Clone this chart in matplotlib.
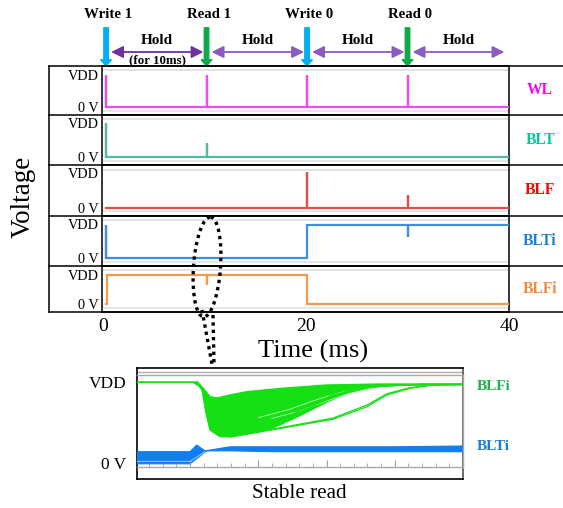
import numpy as np
import matplotlib
matplotlib.use('Agg')
import matplotlib.pyplot as plt
from matplotlib.lines import Line2D
from matplotlib.patches import Ellipse
from matplotlib.transforms import Affine2D, blended_transform_factory
from matplotlib.ticker import MultipleLocator

plt.rcParams['font.family'] = ['Liberation Serif', 'DejaVu Serif']

# ---- data -------------------------------------------------------------
event_t = [0.3, 10.2, 20.1, 30.0]
event_names = ['Write 1', 'Read 1', 'Write 0', 'Read 0']
event_colors = ['#00b0f0', '#10a84a', '#00b0f0', '#10a84a']
t_end = 40.0

signals = ['WL', 'BLT', 'BLF', 'BLTi', 'BLFi']
label_colors = ['#ff00ff', '#00c896', '#ff0000', '#1a7fd4', '#f08a3c']
trace_colors = ['#ee4cee', '#55b8a2', '#dd5050', '#3d8fe0', '#f29a4e']

# step levels (time, level) and short spikes (time, peak), in units of VDD
wl_step_t, wl_step_v = [0.3], [0.0]
wl_spike_t, wl_spike_v = [0.3, 10.2, 20.1, 30.0], [1.0, 1.0, 1.0, 1.0]
blt_step_t, blt_step_v = [0.3], [0.0]
blt_spike_t, blt_spike_v = [0.3, 10.2], [1.0, 0.41]
blf_step_t, blf_step_v = [0.3], [0.0]
blf_spike_t, blf_spike_v = [20.1, 30.0], [1.03, 0.38]
blti_step_t, blti_step_v = [0.3, 20.1], [0.0, 1.0]
blti_spike_t, blti_spike_v = [0.3, 30.0], [1.0, 0.62]
blfi_step_t, blfi_step_v = [0.25, 0.35, 20.1], [0.0, 1.0, 0.0]
blfi_spike_t, blfi_spike_v = [10.2], [0.64]

# zoomed read (arbitrary time units), many Monte Carlo runs
blfi_top_t = [-0.777, 0.044, 0.103, 0.190, 0.293, 0.396, 0.586, 0.835, 1.319, 2.007, 2.784, 4.0]
blfi_top_v = [0.996, 0.996, 1.004, 0.926, 0.818, 0.802, 0.84, 0.88, 0.92, 0.963, 0.975, 0.975]
blfi_low_t = [-0.777, 0.044, 0.132, 0.176, 0.234, 0.293, 0.440, 0.586, 0.835, 1.216, 1.568, 2.007, 2.344, 2.784, 3.370, 4.0]
blfi_low_v = [0.996, 0.996, 0.95, 0.90, 0.617, 0.407, 0.325, 0.325, 0.367, 0.432, 0.568, 0.753, 0.877, 0.95, 0.969, 0.969]
slow_a1_t = [0.835, 1.319, 1.612, 2.095, 2.593, 3.077, 4.0]
slow_a1_v = [0.37, 0.506, 0.654, 0.84, 0.942, 0.963, 0.969]
slow_a2_t = [0.835, 1.319, 1.612, 2.095, 2.593, 3.077, 4.0]
slow_a2_v = [0.36, 0.49, 0.63, 0.82, 0.93, 0.96, 0.969]
slow_b1_t = [0.586, 1.026, 1.612, 2.095, 2.593, 2.886, 3.223, 3.560, 4.0]
slow_b1_v = [0.32, 0.383, 0.469, 0.54, 0.695, 0.84, 0.922, 0.963, 0.969]
slow_b2_t = [0.586, 1.026, 1.612, 2.095, 2.593, 2.886, 3.223, 3.560, 4.0]
slow_b2_v = [0.325, 0.39, 0.48, 0.555, 0.715, 0.855, 0.93, 0.965, 0.969]
light_1_t = [1.0, 1.45, 1.85, 2.2, 2.6]
light_1_v = [0.56, 0.66, 0.78, 0.87, 0.93]
light_2_t = [1.2, 1.6, 1.95, 2.3, 2.7]
light_2_v = [0.55, 0.64, 0.75, 0.85, 0.93]
blti_top_t = [-0.777, 0.0, 0.098, 0.22, 0.586, 1.2, 3.0, 4.0]
blti_top_v = [0.14, 0.14, 0.222, 0.15, 0.20, 0.20, 0.20, 0.21]
blti_low_t = [4.0, 1.2, 0.586, 0.245, 0.0, -0.777]
blti_low_v = [0.139, 0.14, 0.15, 0.15, -0.01, -0.01]
blti_faint_t = [-0.777, 0.0, 0.22]
blti_faint_v = [0.02, 0.02, 0.14]


def waveform(step_t, step_v, spike_t, spike_v):
    ev = sorted([(t, 0, v) for t, v in zip(step_t, step_v)] +
                [(t, 1, v) for t, v in zip(spike_t, spike_v)])
    ts, vs, level = [], [], None
    for t, kind, v in ev:
        if kind == 0:
            if level is not None:
                ts.append(t); vs.append(level)
            ts.append(t); vs.append(v); level = v
        else:
            ts += [t, t, t]; vs += [level, v, level]
    ts.append(t_end); vs.append(level)
    return ts, vs


waves = [
    waveform(wl_step_t, wl_step_v, wl_spike_t, wl_spike_v),
    waveform(blt_step_t, blt_step_v, blt_spike_t, blt_spike_v),
    waveform(blf_step_t, blf_step_v, blf_spike_t, blf_spike_v),
    waveform(blti_step_t, blti_step_v, blti_spike_t, blti_spike_v),
    waveform(blfi_step_t, blfi_step_v, blfi_spike_t, blfi_spike_v),
]

# ---- layout -----------------------------------------------------------
W, H = 563, 508
fig = plt.figure(figsize=(W / 100, H / 100), dpi=100)
pix = Affine2D().scale(1 / W, -1 / H).translate(0, 1) + fig.transFigure


def box(x0, y0, x1, y1):
    return [x0 / W, 1 - y1 / H, (x1 - x0) / W, (y1 - y0) / H]


row_edges = [66, 115, 165, 216, 266, 312]
x_left, x_plot0, x_plot1 = 49, 102, 509

axes = []
for i, name in enumerate(signals):
    y0, y1 = row_edges[i], row_edges[i + 1]
    h = y1 - y0
    ax = fig.add_axes(box(x_plot0, y0, x_plot1, y1))
    lo = -8.0 / (h - 16.5)
    hi = (h - 8.0) / (h - 16.5)
    ax.set_ylim(lo, hi)
    ax.set_xlim(-0.1, 40)
    # faint simulator frame
    ax.axhline(lo + 0.91 * (hi - lo), color='#e2e2e2', lw=1.4, zorder=1)
    ax.axhline(lo + 0.09 * (hi - lo), color='#e6e6e6', lw=1.4, zorder=1)
    ts, vs = waves[i]
    ax.plot(ts, vs, color=trace_colors[i], lw=1.6, zorder=3, solid_joinstyle='miter')
    ax.set_yticks([0, 1])
    ax.set_yticklabels(['0 V', 'VDD'], fontsize=10.3)
    ax.tick_params(axis='y', length=0, pad=2.5)
    ax.tick_params(axis='x', length=0, pad=4.5)
    if i < 4:
        ax.set_xticks([])
    else:
        ax.set_xticks([0, 20, 40])
        ax.set_xticklabels(['0', '20', '40'], fontsize=14)
    for s in ax.spines.values():
        s.set_linewidth(1.1)
    fig.text(540 / W, 1 - ((y0 + y1) / 2) / H, name, color=label_colors[i],
             fontsize=11.2, fontweight='bold', ha='center', va='center')
    axes.append(ax)

# outer table lines
for y in row_edges:
    fig.add_artist(Line2D([x_left, W], [y, y], transform=pix, color='k', lw=1.1))
fig.add_artist(Line2D([x_left, x_left], [row_edges[0], row_edges[-1]], transform=pix, color='k', lw=1.1))

fig.text(23 / W, 1 - 197 / H, 'Voltage', rotation=90, fontsize=19.5, ha='center', va='center')
fig.text(313 / W, 1 - 351 / H, 'Time (ms)', fontsize=19, ha='center', va='center')

# ---- operation arrows on top -------------------------------------------
ax0 = axes[0]
bt = blended_transform_factory(ax0.transData, pix)
for t, name, c in zip(event_t, event_names, event_colors):
    ax0.annotate('', xy=(t, 1.0), xycoords=('data', 'axes fraction'),
                 xytext=(0, 27.5), textcoords='offset points',
                 arrowprops=dict(arrowstyle='simple,head_width=0.75,head_length=0.45,tail_width=0.32',
                                 color=c, shrinkA=0, shrinkB=0, mutation_scale=10),
                 annotation_clip=False)
    ax0.text(t + 0.25, 15, name, transform=bt, fontsize=10.7, fontweight='bold',
             ha='center', va='center')

ends = event_t[1:] + [39.85]
for k, (t0, t1) in enumerate(zip(event_t, ends)):
    ax0.annotate('', xy=(t1 - 0.3, 52), xycoords=bt, xytext=(t0 + 0.5, 52), textcoords=bt,
                 arrowprops=dict(arrowstyle='<|-|>,head_width=0.3,head_length=0.6',
                                 color='#7030a0' if k == 0 else '#8a5cbf', lw=1.3,
                                 shrinkA=0, shrinkB=0, mutation_scale=12),
                 annotation_clip=False)
    ax0.text((t0 + t1) / 2 + 0.1, 41, 'Hold', transform=bt, fontsize=11,
             fontweight='bold', ha='center', va='center')
ax0.text((event_t[0] + ends[0]) / 2 + 0.1, 60, '(for 10ms)', transform=bt, fontsize=9.3,
         fontweight='bold', ha='center', va='center')

# ---- dotted callout ------------------------------------------------------
fig.add_artist(Ellipse((207, 267), 27, 100, angle=4, transform=pix, fill=False,
                       ls=(0, (1, 1.2)), lw=2.4, color='k'))
fig.add_artist(Line2D([202, 212], [310, 364], transform=pix, ls=(0, (1, 1.2)), lw=2.4, color='k'))
fig.add_artist(Line2D([213, 214], [315, 364], transform=pix, ls=(0, (1, 1.2)), lw=2.4, color='k'))

# ---- zoomed read inset ---------------------------------------------------
outer = fig.add_axes(box(137, 368, 463, 479))
outer.set_xlim(0, 1)
outer.set_ylim(0, 1)
outer.set_xticks([])
outer.set_yticks([])
outer.axhline((479 - 372) / 111, color='#b0b0b0', lw=1.0)
for s in outer.spines.values():
    s.set_linewidth(1.2)
outer.spines['right'].set_color('#555555')

inner = fig.add_axes(box(137, 375, 463, 467), facecolor='none')
inner.set_xlim(-0.777, 4.0)
inner.set_ylim(-0.0494, 1.0863)
inner.spines['left'].set_visible(False)
for s in ['top', 'bottom', 'right']:
    inner.spines[s].set_color('#a8a8a8')
    inner.spines[s].set_linewidth(1.0)
inner.xaxis.set_major_locator(MultipleLocator(1))
inner.xaxis.set_minor_locator(MultipleLocator(0.2))
inner.tick_params(axis='x', which='both', direction='in', color='#a0a0a0', labelbottom=False)
inner.tick_params(axis='x', which='major', length=5)
inner.tick_params(axis='x', which='minor', length=3)
inner.set_yticks([0, 1])
inner.set_yticklabels(['0 V', 'VDD'], fontsize=12.5)
inner.tick_params(axis='y', length=0, pad=7.5)

green = '#14e014'
blue = '#0f7ef0'
inner.fill(blfi_top_t + blfi_low_t[::-1], blfi_top_v + blfi_low_v[::-1], color=green, lw=1.0, ec=green)
for tt, vv in [(light_1_t, light_1_v), (light_2_t, light_2_v)]:
    inner.plot(tt, vv, color='#b4f7b4', lw=0.6)
for tt, vv in [(slow_a1_t, slow_a1_v), (slow_a2_t, slow_a2_v), (slow_b1_t, slow_b1_v), (slow_b2_t, slow_b2_v)]:
    inner.plot(tt, vv, color=green, lw=0.9)
inner.fill(blti_top_t + blti_low_t, blti_top_v + blti_low_v, color=blue, lw=0.8, ec=blue)
inner.plot(blti_faint_t, blti_faint_v, color='#9ccbf7', lw=0.7)

fig.text(477 / W, 1 - 386 / H, 'BLFi', color='#21b24b', fontsize=11, fontweight='bold', va='center')
fig.text(477 / W, 1 - 447 / H, 'BLTi', color='#1a7fd4', fontsize=11, fontweight='bold', va='center')
fig.text(299 / W, 1 - 493 / H, 'Stable read', fontsize=15.2, ha='center', va='center')

fig.savefig('out.png', dpi=100)
